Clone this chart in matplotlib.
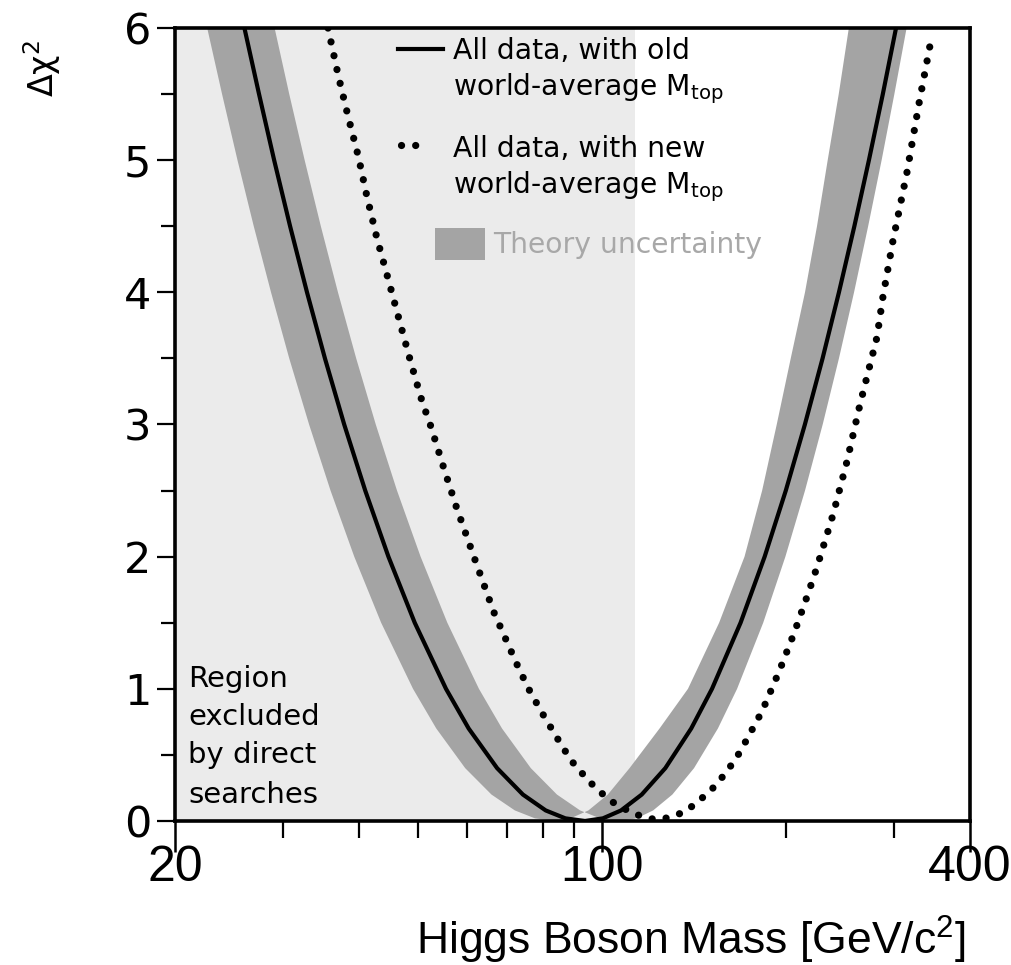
import matplotlib
matplotlib.use("Agg")
import matplotlib.pyplot as plt
from matplotlib.patches import Rectangle
from matplotlib.ticker import NullFormatter

plt.rcParams["mathtext.default"] = "regular"

# values: Higgs mass [GeV/c^2] and delta chi^2
old_mass = [25.98, 27.45, 29.06, 30.86, 32.89, 35.19, 37.84, 40.96, 44.70, 49.36, 55.53,
            60.48, 67.32, 74.20, 80.85, 87.07, 93.76, 100.3, 107.4, 116.1, 126.9, 139.9,
            151.3, 168.5, 184.5, 199.8, 214.7, 229.5, 244.1, 258.7, 273.3, 288.0, 302.7]
old_dchi2 = [6.0, 5.5, 5.0, 4.5, 4.0, 3.5, 3.0, 2.5, 2.0, 1.5, 1.0,
             0.7, 0.4, 0.2, 0.08, 0.02, 0.0, 0.02, 0.08, 0.2, 0.4, 0.7,
             1.0, 1.5, 2.0, 2.5, 3.0, 3.5, 4.0, 4.5, 5.0, 5.5, 6.0]

new_mass = [35.6, 37.0, 38.4, 39.9, 41.2, 42.8, 44.6, 46.5, 48.5, 50.7, 52.5, 54.9,
            57.7, 61.9, 66.5, 72.3, 75.6, 79.7, 84.1, 88.9, 95.2, 102.6, 107.0, 112.3,
            118.4, 124.4, 131.6, 137.7, 143.6, 149.0, 154.8, 165.0, 169.4, 182.7, 194.8,
            206.1, 217.3, 224.7, 238.8, 251.6, 264.2, 281.7, 288.2, 299.2, 315.5, 330.1,
            346.7]
new_dchi2 = [6.0, 5.64, 5.33, 5.03, 4.73, 4.41, 4.11, 3.80, 3.49, 3.18, 2.98, 2.69,
             2.38, 1.98, 1.58, 1.20, 1.01, 0.82, 0.64, 0.46, 0.30, 0.16, 0.11, 0.06,
             0.02, 0.01, 0.04, 0.08, 0.15, 0.21, 0.29, 0.46, 0.55, 0.83, 1.13,
             1.42, 1.72, 1.92, 2.32, 2.72, 3.15, 3.66, 3.97, 4.39, 4.91, 5.43,
             5.95]

# theory uncertainty band: left edge and right edge, top-left -> bottom -> top-right
band_lo_mass = [22.58, 23.88, 25.31, 26.91, 28.72, 30.76, 33.15, 35.94, 39.30, 43.49, 49.04,
                53.53, 59.69, 65.91, 71.98, 77.64, 83.74, 88.77, 94.97, 102.17, 110.90,
                124.17, 138.20, 155.42, 171.03, 182.76, 193.10, 203.56, 214.80, 224.73,
                233.98, 243.92, 253.39]
band_lo_dchi2 = [6.0, 5.5, 5.0, 4.5, 4.0, 3.5, 3.0, 2.5, 2.0, 1.5, 1.0,
                 0.7, 0.4, 0.2, 0.08, 0.02, 0.0, 0.02, 0.08, 0.2, 0.4,
                 0.7, 1.0, 1.5, 2.0, 2.5, 3.0, 3.5, 4.0, 4.5,
                 5.0, 5.5, 6.0]
band_hi_mass = [29.11, 30.76, 32.60, 34.65, 36.96, 39.59, 42.62, 46.17, 50.46, 55.81, 62.87,
                68.58, 76.44, 84.36, 92.05, 99.23, 106.97, 113.9, 121.2, 130.3, 141.4,
                154.7, 166.3, 183.5, 199.5, 214.8, 229.6, 244.1, 258.4, 272.5,
                286.7, 300.8, 315.0]
band_hi_dchi2 = band_lo_dchi2

excl_limit = 113.0   # direct search exclusion

x_ticks = [20, 100, 400]
x_ticklabels = ["20", "100", "400"]
x_minor = [30, 40, 50, 60, 70, 80, 90, 200, 300]
y_ticks = [0, 1, 2, 3, 4, 5, 6]
y_minor = [0.5, 1.5, 2.5, 3.5, 4.5, 5.5]

band_color = "#a4a4a4"
dot_style = dict(color="black", lw=5.2, linestyle=(0, (0.01, 1.95)), dash_capstyle="round")

fig = plt.figure(figsize=(10.12, 9.65), dpi=100)
ax = fig.add_axes([175 / 1012, 1 - 821 / 965, 795 / 1012, 793 / 965])
ax.set_xscale("log")
ax.set_xlim(20, 400)
ax.set_ylim(0, 6)

ax.axvspan(20, excl_limit, color="#ebebeb", lw=0, zorder=0)
ax.fill(band_lo_mass + band_hi_mass[::-1], band_lo_dchi2 + band_hi_dchi2[::-1],
        color=band_color, lw=0, zorder=1)
ax.plot(old_mass, old_dchi2, color="black", lw=3.0, zorder=3)
ax.plot(new_mass, new_dchi2, zorder=3, **dot_style)

# axes and ticks
for s in ax.spines.values():
    s.set_linewidth(2.6)
ax.set_xticks(x_ticks)
ax.set_xticklabels(x_ticklabels)
ax.set_xticks(x_minor, minor=True)
ax.xaxis.set_minor_formatter(NullFormatter())
ax.set_yticks(y_ticks)
ax.set_yticks(y_minor, minor=True)
ax.tick_params(axis="x", which="major", direction="out", length=22, width=1.8, pad=-5,
               labelsize=36, labelfontfamily="Liberation Sans")
ax.tick_params(axis="x", which="minor", direction="out", length=12, width=1.6)
ax.tick_params(axis="y", which="major", direction="out", length=13, width=1.6, pad=4,
               labelsize=31, labelfontfamily="DejaVu Sans")
ax.tick_params(axis="y", which="minor", direction="out", length=10, width=1.6)

ax.set_xlabel("Higgs Boson Mass [GeV/c$^2$]", family="Liberation Sans",
              fontsize=32, ha="right", va="baseline")
ax.xaxis.set_label_coords(0.994, -0.169)
fig.text(42 / 1012, 1 - 68 / 965, "Δχ$^2$", rotation=90, ha="center", va="center",
         fontsize=24, family="DejaVu Sans")

# legend, drawn by hand so the symbols sit on the first line
T = ax.transAxes
ax.plot([0.2805, 0.3371], [0.9735, 0.9735], transform=T, color="black", lw=3.0, clip_on=False)
ax.plot([0.2843, 0.3195], [0.8525, 0.8525], transform=T, clip_on=False, **dot_style)
ax.add_patch(Rectangle((0.3270, 0.7074), 0.0629, 0.0404, transform=T, color=band_color, lw=0))
leg_font = dict(fontsize=20.3, family="DejaVu Sans", va="baseline", transform=T)
ax.text(0.3491, 0.9609, "All data, with old", **leg_font)
ax.text(0.3491, 0.9155, "world-average M$_{top}$", **leg_font)
ax.text(0.3491, 0.8373, "All data, with new", **leg_font)
ax.text(0.3491, 0.7919, "world-average M$_{top}$", **leg_font)
ax.text(0.4000, 0.7163, "Theory uncertainty", color="#a8a8a8", **leg_font)

region_font = dict(leg_font, fontsize=21)
for line, yy in zip(["Region", "excluded", "by direct", "searches"],
                    [0.169, 0.1211, 0.0731, 0.0227]):
    ax.text(0.0164, yy, line, **region_font)

fig.savefig("out.png", dpi=100)
